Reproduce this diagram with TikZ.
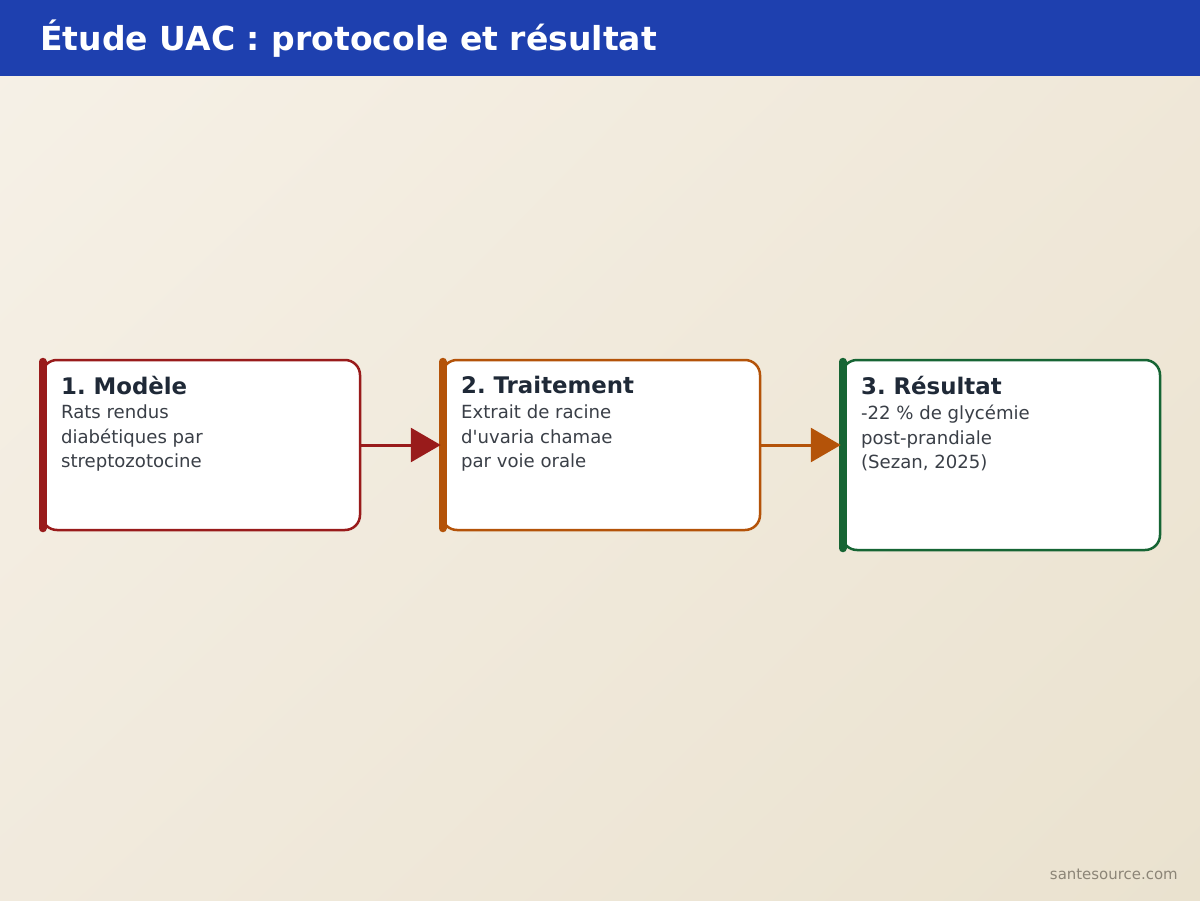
\documentclass[tikz,border=0pt]{standalone}
\usepackage{fontspec}
\setmainfont{DejaVu Sans}
\usepackage{xcolor}
\usetikzlibrary{arrows.meta, positioning, calc, shadings}
\frenchspacing
\definecolor{HeadBlue}{HTML}{1E40AF}
\definecolor{StepRed}{HTML}{991B1B}
\definecolor{StepOrange}{HTML}{B45309}
\definecolor{StepGreen}{HTML}{166534}
\definecolor{TitleInk}{HTML}{1F2937}
\definecolor{BodyInk}{HTML}{3A3F47}
\definecolor{FootInk}{HTML}{8C8577}
\definecolor{BgTL}{HTML}{F6F1E7}
\definecolor{BgTR}{HTML}{F0E8D9}
\definecolor{BgBL}{HTML}{F1EADD}
\definecolor{BgBR}{HTML}{EAE2CF}
\tikzset{
    stepbox/.style={
        draw=#1,
        fill=white,
        line width=0.05cm,
        rounded corners=0.3cm,
        minimum width=6.36cm,
        minimum height=3.4cm,
        inner sep=0pt
    },
    stepbox/.default=StepRed,
    accentbar/.style={
        draw=#1,
        line width=0.16cm,
        line cap=round
    },
    steptitle/.style={
        anchor=north west,
        inner sep=0pt,
        text=TitleInk,
        font=\fontsize{13}{15}\selectfont\bfseries
    },
    steptext/.style={
        anchor=north west,
        inner sep=0pt,
        align=left,
        text=BodyInk,
        font=\fontsize{10.3}{13.9}\selectfont
    },
    arrow/.style={
        -{Triangle[length=0.6cm, width=0.68cm]},
        line width=0.06cm,
        #1
    }
}

\begin{document}
\begin{tikzpicture}
        % Background and header
        \shade[upper left=BgTL, upper right=BgTR, lower left=BgBL, lower right=BgBR] (0,0) rectangle (24,18);
        \fill[HeadBlue] (0,16.48) rectangle (24,18);
        \node[anchor=west, inner sep=0pt, text=white, font=\fontsize{18.8}{22}\selectfont\bfseries] (title) at (0.8,17.22) {Étude UAC : protocole et résultat};

        % Step boxes
        \node[stepbox=StepRed] (model) at (4.02,9.1) {};
        \draw[accentbar=StepRed] ([shift={(0.04,-0.06)}]model.north west) -- ([shift={(0.04,0.06)}]model.south west);
        \node[steptitle] (modelt) at ([shift={(0.4,-0.35)}]model.north west) {1. Modèle};
        \node[steptext] (modelb) at ([shift={(0.4,-0.92)}]model.north west) {Rats rendus\\diabétiques par\\streptozotocine};

        \node[stepbox=StepOrange] (treat) at (12.02,9.1) {};
        \draw[accentbar=StepOrange] ([shift={(0.04,-0.06)}]treat.north west) -- ([shift={(0.04,0.06)}]treat.south west);
        \node[steptitle] (treatt) at ([shift={(0.4,-0.35)}]treat.north west) {2. Traitement};
        \node[steptext] (treatb) at ([shift={(0.4,-0.92)}]treat.north west) {Extrait de racine\\d\textquotesingle uvaria chamae\\par voie orale};

        \node[stepbox=StepGreen, minimum height=3.8cm] (result) at (20.02,8.9) {};
        \draw[accentbar=StepGreen] ([shift={(0.04,-0.06)}]result.north west) -- ([shift={(0.04,0.06)}]result.south west);
        \node[steptitle] (resultt) at ([shift={(0.4,-0.35)}]result.north west) {3. Résultat};
        \node[steptext] (resultb) at ([shift={(0.4,-0.92)}]result.north west) {-22 \% de glycémie\\post-prandiale\\(Sezan, 2025)};

        % Arrows between steps
        \draw[arrow=StepRed] (model.east) -- (treat.west);
        \draw[arrow=StepOrange] (treat.east) -- (treat.east -| result.west);

        % Footer
        \node[anchor=base east, inner sep=0pt, text=FootInk, font=\fontsize{8.5}{10}\selectfont] (foot) at (23.56,0.42) {santesource.com};
\end{tikzpicture}
\end{document}
